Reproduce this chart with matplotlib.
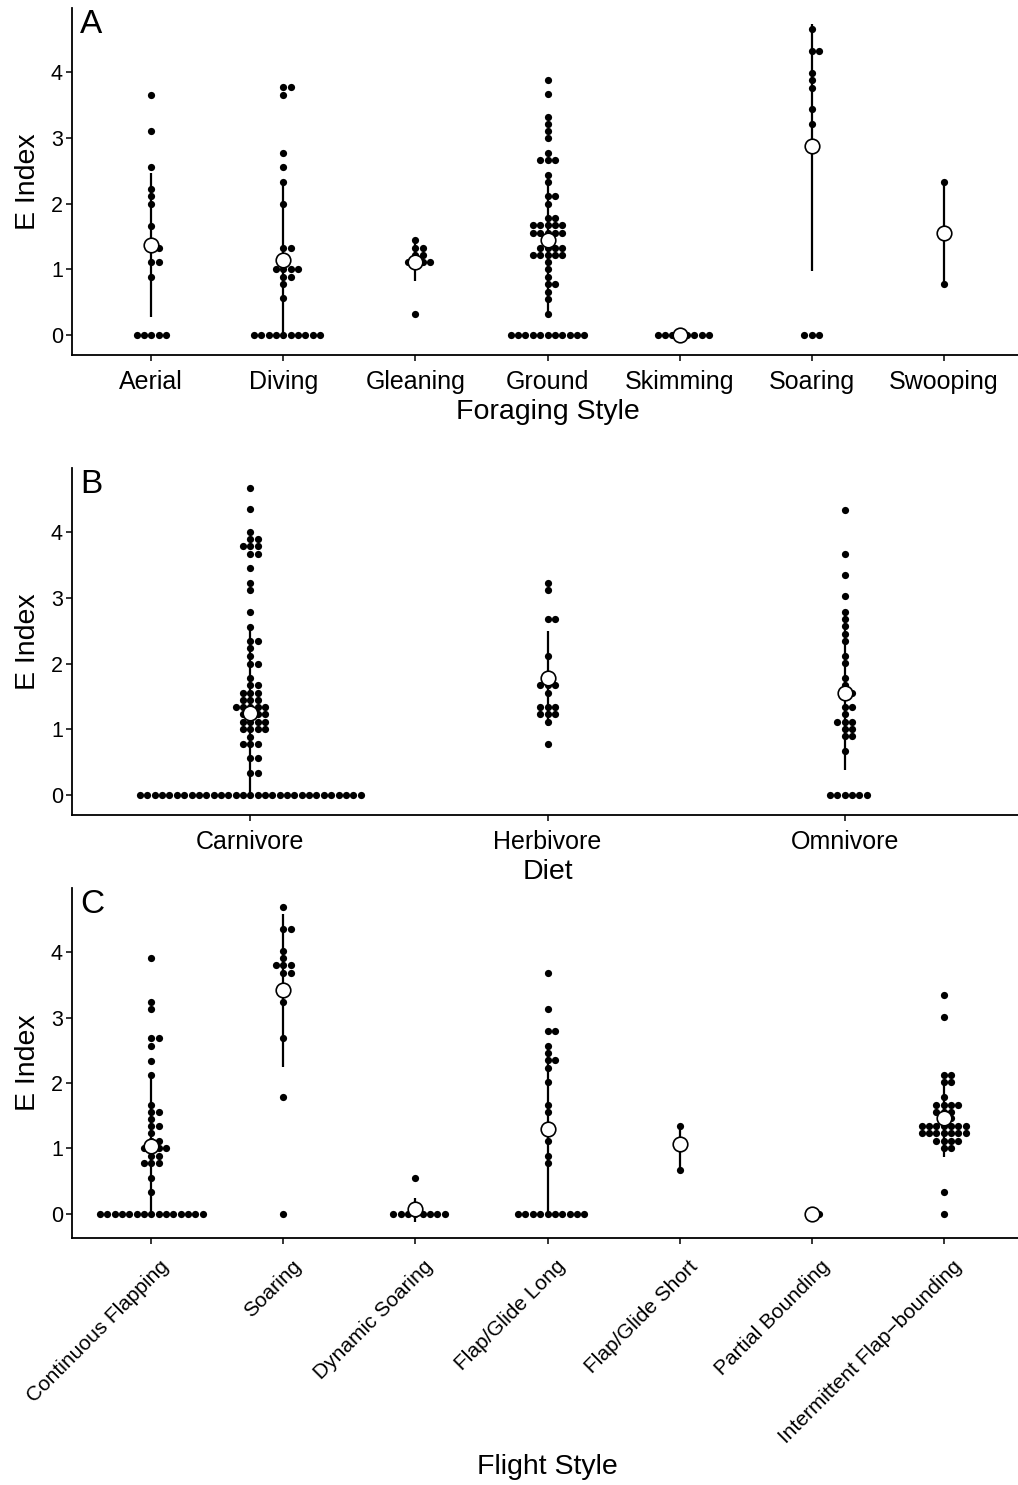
import numpy as np
import matplotlib
matplotlib.use('Agg')
import matplotlib.pyplot as plt
from matplotlib.transforms import ScaledTranslation

plt.rcParams['font.family'] = ['Liberation Sans', 'DejaVu Sans']

# ---- Panel A: foraging style ----
forage_cats = ['Aerial', 'Diving', 'Gleaning', 'Ground', 'Skimming', 'Soaring', 'Swooping']
aerial = [3.65, 3.10, 2.55, 2.22, 2.11, 2.00, 1.66, 1.33, 1.33, 1.11, 1.11, 0.89, 0, 0, 0, 0, 0]
diving = [3.77, 3.77, 3.65, 2.77, 2.55, 2.33, 2.00, 1.33, 1.33, 1.00, 1.00, 1.00, 1.00,
          0.89, 0.89, 0.78, 0.56, 0, 0, 0, 0, 0, 0, 0, 0, 0, 0]
gleaning = [1.45, 1.33, 1.33, 1.22, 1.22, 1.11, 1.11, 1.11, 1.11, 0.33]
ground = [3.88, 3.66, 3.32, 3.21, 3.10, 2.99, 2.77, 2.66, 2.66, 2.66, 2.44, 2.33, 2.11, 2.11,
          2.00, 1.78, 1.78, 1.67, 1.67, 1.67, 1.67, 1.67, 1.55, 1.55, 1.55, 1.55, 1.55,
          1.33, 1.33, 1.33, 1.33, 1.22, 1.22, 1.22, 1.22, 1.22, 1.11, 1.00, 0.89, 0.78, 0.78,
          0.66, 0.55, 0.33, 0, 0, 0, 0, 0, 0, 0, 0, 0, 0, 0]
skimming = [0, 0, 0, 0, 0, 0, 0, 0]
soaring_f = [4.65, 4.32, 4.32, 3.99, 3.88, 3.76, 3.43, 3.21, 0, 0, 0]
swooping = [2.33, 0.78]
forage_mean = [1.37, 1.15, 1.12, 1.44, 0.0, 2.87, 1.56]
forage_low = [0.27, -0.06, 0.83, 0.29, 0.0, 0.98, 0.78]
forage_high = [2.47, 2.33, 1.45, 2.47, 0.0, 4.73, 2.33]

# ---- Panel B: diet ----
diet_cats = ['Carnivore', 'Herbivore', 'Omnivore']
carnivore = [4.67, 4.34, 4.00, 3.89, 3.89, 3.78, 3.78, 3.78, 3.67, 3.67, 3.45, 3.23, 3.12,
             2.78, 2.56, 2.34, 2.34, 2.23, 2.12, 2.00, 2.00, 1.78, 1.67, 1.67,
             1.56, 1.56, 1.56, 1.45, 1.45, 1.45, 1.34, 1.34, 1.34, 1.34, 1.34,
             1.23, 1.23, 1.23, 1.23, 1.12, 1.12, 1.12, 1.12, 1.00, 1.00, 1.00, 1.00,
             0.89, 0.78, 0.78, 0.78, 0.56, 0.56, 0.34, 0.34] + [0] * 31
herbivore = [3.22, 3.11, 2.67, 2.67, 2.11, 1.67, 1.67, 1.67, 1.56, 1.34, 1.34, 1.34,
             1.23, 1.23, 1.23, 1.11, 0.78]
omnivore = [4.33, 3.67, 3.34, 3.02, 2.79, 2.68, 2.57, 2.45, 2.34, 2.12, 2.01, 1.78, 1.67,
            1.56, 1.56, 1.34, 1.34, 1.23, 1.12, 1.12, 1.12, 1.01, 1.01, 0.90, 0.90, 0.67,
            0, 0, 0, 0, 0, 0]
diet_mean = [1.25, 1.78, 1.56]
diet_low = [-0.05, 1.05, 0.39]
diet_high = [2.56, 2.49, 2.75]

# ---- Panel C: flight style ----
flight_cats = ['Continuous Flapping', 'Soaring', 'Dynamic Soaring', 'Flap/Glide Long',
               'Flap/Glide Short', 'Partial Bounding', 'Intermittent Flap\u2212bounding']
cont_flap = [3.91, 3.24, 3.13, 2.68, 2.68, 2.57, 2.34, 2.12, 1.67, 1.56, 1.56, 1.45, 1.34,
             1.34, 1.23, 1.12, 1.12, 1.00, 1.00, 1.00, 1.00, 0.89, 0.89, 0.78, 0.78, 0.78,
             0.55, 0.33] + [0] * 15
soaring_c = [4.69, 4.36, 4.36, 4.02, 3.91, 3.80, 3.80, 3.80, 3.68, 3.68, 3.24, 2.68, 1.78, 0]
dyn_soar = [0.55, 0, 0, 0, 0, 0, 0, 0, 0]
flap_long = [3.68, 3.13, 2.79, 2.79, 2.57, 2.46, 2.35, 2.35, 2.23, 2.01, 1.67, 1.56, 1.11,
             0.89, 0.78] + [0] * 10
flap_short = [1.34, 0.67]
partial_bound = [0, 0]
intermittent = [3.35, 3.01, 2.12, 2.12, 2.01, 2.01, 1.78, 1.67, 1.67, 1.67, 1.67,
                1.56, 1.56, 1.56, 1.46, 1.46, 1.34, 1.34, 1.34, 1.34, 1.34, 1.34, 1.34,
                1.23, 1.23, 1.23, 1.23, 1.23, 1.23, 1.23, 1.11, 1.11, 1.11, 1.11,
                1.00, 1.00, 0.34, 0]
flight_mean = [1.03, 3.42, 0.07, 1.30, 1.06, 0.0, 1.46]
flight_low = [-0.03, 2.25, -0.12, 0.0, 0.67, 0.0, 0.87]
flight_high = [2.12, 4.59, 0.24, 2.58, 1.34, 0.0, 2.05]

W, H = 1018, 1485
fig = plt.figure(figsize=(W / 100, H / 100), dpi=100)


def make_axes(top, bottom, left=72, right=1023):
    return fig.add_axes([left / W, 1 - bottom / H, (right - left) / W, (bottom - top) / H])


def draw_panel(ax, cats, groups, means, lows, highs, ylim):
    n = len(cats)
    ax.set_xlim(0.4, n + 0.6)
    ax.set_ylim(*ylim)
    width_px = ax.get_position().width * W
    step = 7.35 * (n + 0.2) / width_px
    for i, vals in enumerate(groups):
        uniq, counts = np.unique(np.round(vals, 2), return_counts=True)
        for v, c in zip(uniq, counts):
            k = np.arange(c) - (c - 1) // 2
            ax.scatter(i + 1 + k * step, [v] * c, s=27, color='black', lw=0, zorder=3)
    x = np.arange(1, n + 1)
    ax.vlines(x, lows, highs, color='black', lw=1.6, zorder=4)
    ax.plot(x, means, 'o', ms=10.5, mfc='white', mec='black', mew=1.2, zorder=5)
    ax.set_xticks(x)
    ax.set_yticks([0, 1, 2, 3, 4])
    for s in ['top', 'right']:
        ax.spines[s].set_visible(False)
    for s in ['left', 'bottom']:
        ax.spines[s].set_linewidth(1.3)
    ax.tick_params(direction='out', length=4, width=1.1, labelsize=15.5)
    ax.tick_params(axis='y', pad=2.5)
    ax.tick_params(axis='x', labelsize=18, pad=6.5)
    ax.set_ylabel('E Index', fontsize=20.5, labelpad=7)


axA = make_axes(8, 355)
draw_panel(axA, forage_cats,
           [aerial, diving, gleaning, ground, skimming, soaring_f, swooping],
           forage_mean, forage_low, forage_high, (-0.30, 4.97))
axA.set_xticklabels(forage_cats)
axA.set_xlabel('Foraging Style', fontsize=20.5, labelpad=4)

axB = make_axes(468, 815)
draw_panel(axB, diet_cats, [carnivore, herbivore, omnivore],
           diet_mean, diet_low, diet_high, (-0.30, 4.97))
axB.set_xticklabels(diet_cats)
axB.set_xlabel('Diet', fontsize=20.5, labelpad=4)

axC = make_axes(888, 1238)
draw_panel(axC, flight_cats,
           [cont_flap, soaring_c, dyn_soar, flap_long, flap_short, partial_bound, intermittent],
           flight_mean, flight_low, flight_high, (-0.37, 4.98))
axC.tick_params(axis='x', labelsize=15, pad=3.5)
axC.set_xticklabels(flight_cats, rotation=45, ha='right', va='top', rotation_mode='anchor')
shift = ScaledTranslation(6 / 72, -6 / 72, fig.dpi_scale_trans)
for lab in axC.get_xticklabels():
    lab.set_transform(lab.get_transform() + shift)
axC.set_xlabel('Flight Style', fontsize=20.5)
axC.xaxis.label.set_va('center')
axC.xaxis.set_label_coords(0.5, -(1467 - 1238) / 350)

for letter, top in [('A', 9), ('B', 469), ('C', 889)]:
    fig.text(80 / W, 1 - top / H, letter, fontsize=24, ha='left', va='top')

fig.savefig('out.png', dpi=100)
